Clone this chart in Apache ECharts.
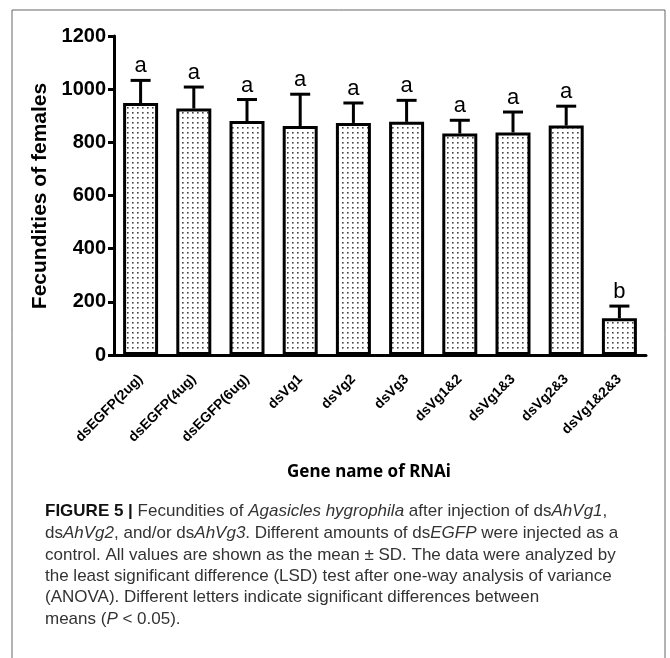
<!DOCTYPE html>
<html>
<head>
<meta charset="utf-8">
<script src="https://cdn.jsdelivr.net/npm/echarts@6/dist/echarts.min.js"></script>
<style>
html,body{margin:0;padding:0;background:#fff;}
#chart{width:670px;height:658px;}
</style>
</head>
<body>
<div id="chart"></div>
<script>
const categories = ['dsEGFP(2ug)','dsEGFP(4ug)','dsEGFP(6ug)','dsVg1','dsVg2','dsVg3','dsVg1&2','dsVg1&3','dsVg2&3','dsVg1&2&3'];
const means = [948, 927, 880, 861, 873, 877, 833, 837, 863, 138];
const sds = [85, 81, 81, 120, 75, 81, 50, 77, 73, 46];
const letters = ['a','a','a','a','a','a','a','a','a','b'];
const yTicks = {min: 0, max: 1200, interval: 200};

const pat = document.createElement('canvas');
pat.width = 5; pat.height = 5;
const pc = pat.getContext('2d');
pc.fillStyle = '#fff'; pc.fillRect(0,0,5,5);
pc.fillStyle = '#444'; pc.fillRect(2,2,1.6,1.6);

const chart = echarts.init(document.getElementById('chart'), null, {renderer:'canvas'});
const font = 'Liberation Sans, Arial, sans-serif';

const errData = means.map((m,i)=>[i, m, sds[i], letters[i]]);

chart.setOption({
  animation:false,
  backgroundColor:'#fff',
  grid:{left:114, right:24, top:36, bottom:303, containLabel:false},
  xAxis:{
    type:'category', data:categories,
    axisLine:{lineStyle:{color:'#000', width:3}},
    axisTick:{alignWithLabel:true, length:7, lineStyle:{color:'#000', width:3}},
    axisLabel:{rotate:45, margin:22, fontFamily:font, fontWeight:'bold', fontSize:14, color:'#000', interval:0}
  },
  yAxis:{
    type:'value', min:yTicks.min, max:yTicks.max, interval:yTicks.interval,
    axisLine:{show:true, lineStyle:{color:'#000', width:3}},
    axisTick:{show:true, length:6, lineStyle:{color:'#000', width:3}},
    axisLabel:{margin:8, fontFamily:font, fontWeight:'bold', fontSize:20, color:'#000', formatter:function(v){return String(v);}},
    splitLine:{show:false}
  },
  series:[
    {
      type:'bar', data:means, barWidth:35,
      itemStyle:{color:{image:pat, repeat:'repeat'}, borderColor:'#000', borderWidth:3}
    },
    {
      type:'custom', data:errData, z:5,
      renderItem:function(params, api){
        const x = api.value(0), m = api.value(1), s = api.value(2);
        const p0 = api.coord([x, m]);
        const p1 = api.coord([x, m + s]);
        const half = 10;
        return {type:'group', children:[
          {type:'line', shape:{x1:p0[0], y1:p0[1], x2:p1[0], y2:p1[1]}, style:{stroke:'#000', lineWidth:3}},
          {type:'line', shape:{x1:p1[0]-half, y1:p1[1], x2:p1[0]+half, y2:p1[1]}, style:{stroke:'#000', lineWidth:3}},
          {type:'text', style:{x:p1[0], y:p1[1]-3, text:letters[params.dataIndex], align:'center', verticalAlign:'bottom', fontFamily:font, fontSize:22, fill:'#000'}}
        ]};
      }
    }
  ],
  graphic:[
    {type:'rect', shape:{x:12, y:10, width:653, height:700}, style:{fill:null, stroke:'#666', lineWidth:1}, silent:true},
    {type:'text', rotation:Math.PI/2, x:40, y:196, style:{text:'Fecundities of females', align:'center', verticalAlign:'middle', fontFamily:font, fontWeight:'bold', fontSize:21, fill:'#000'}},
    {type:'text', x:369, y:472, style:{text:'Gene name of RNAi', align:'center', verticalAlign:'middle', fontFamily:'Noto Sans, sans-serif', fontWeight:'bold', fontSize:17, fill:'#000'}},
    {type:'text', x:45, y:511, style:{text:'{b|FIGURE 5 |} Fecundities of {i|Agasicles hygrophila} after injection of ds{i|AhVg1},', verticalAlign:'middle', fontFamily:font, fontSize:17, fill:'#333', rich:{b:{fontWeight:'bold', fill:'#111', fontFamily:font, fontSize:17}, i:{fontStyle:'italic', fontFamily:font, fontSize:17, fill:'#333'}}}},
    {type:'text', x:45, y:533, style:{text:'ds{i|AhVg2}, and/or ds{i|AhVg3}. Different amounts of ds{i|EGFP} were injected as a', verticalAlign:'middle', fontFamily:font, fontSize:17, fill:'#333', rich:{i:{fontStyle:'italic', fontFamily:font, fontSize:17, fill:'#333'}}}},
    {type:'text', x:45, y:555, style:{text:'control. All values are shown as the mean \u00b1 SD. The data were analyzed by', verticalAlign:'middle', fontFamily:font, fontSize:17, fill:'#333'}},
    {type:'text', x:45, y:576, style:{text:'the least significant difference (LSD) test after one-way analysis of variance', verticalAlign:'middle', fontFamily:font, fontSize:17, fill:'#333'}},
    {type:'text', x:45, y:597, style:{text:'(ANOVA). Different letters indicate significant differences between', verticalAlign:'middle', fontFamily:font, fontSize:17, fill:'#333'}},
    {type:'text', x:45, y:619, style:{text:'means ({i|P} < 0.05).', verticalAlign:'middle', fontFamily:font, fontSize:17, fill:'#333', rich:{i:{fontStyle:'italic', fontFamily:font, fontSize:17, fill:'#333'}}}}
  ]
});
</script>
</body>
</html>
